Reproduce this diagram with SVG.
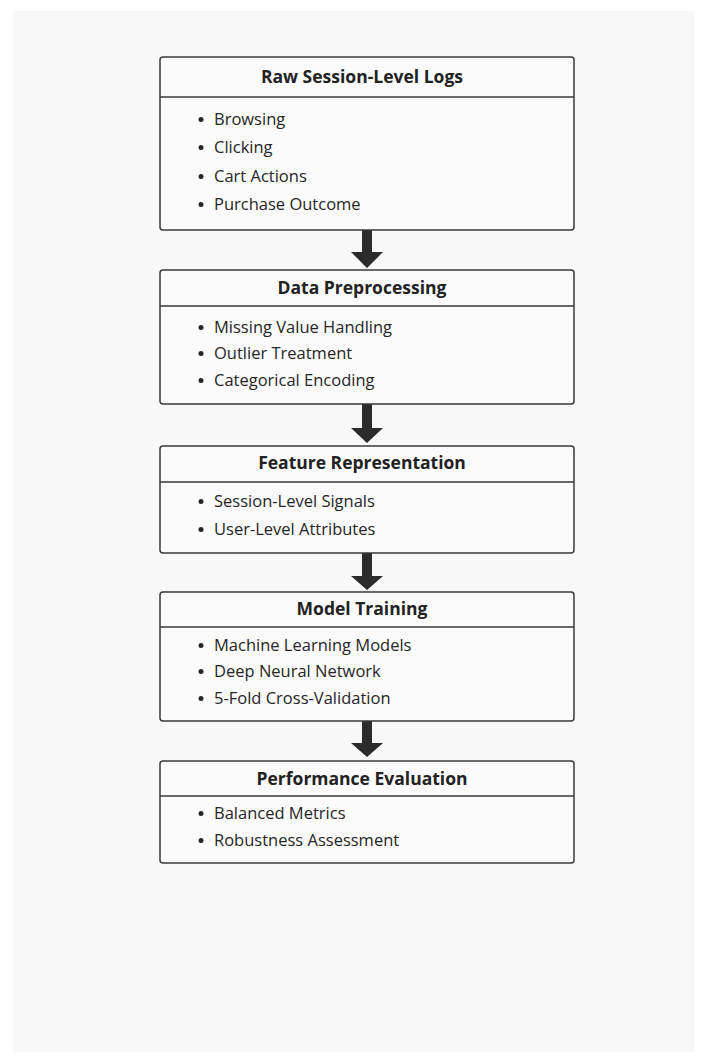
<svg xmlns="http://www.w3.org/2000/svg" width="707" height="1063" viewBox="0 0 707 1063">
<style>
.box{fill:#fbfbfb;stroke:#3a3a3a;stroke-width:1.5}
.div{stroke:#3a3a3a;stroke-width:1.5}
.title{font-family:"Open Sans","Noto Sans",sans-serif;font-weight:700;font-size:17.5px;fill:#222;text-anchor:middle}
.item{font-family:"Open Sans","Noto Sans",sans-serif;font-size:16.5px;fill:#262626}
.bul{fill:#262626}
.arrow{fill:#2b2b2b}
</style>
<rect x="0" y="0" width="707" height="1063" fill="#ffffff"/>
<rect x="13" y="11" width="681" height="1041" fill="#f8f8f8"/>
<g id="connectors">
<path class="arrow" d="M362,230 H372 V252 H383 L367,268 L351,252 H362 Z"/>
<path class="arrow" d="M362,404 H372 V428 H383 L367,443 L351,428 H362 Z"/>
<path class="arrow" d="M362,553 H372 V576 H383 L367,590 L351,576 H362 Z"/>
<path class="arrow" d="M362,721 H372 V743 H383 L367,757 L351,743 H362 Z"/>
</g>
<g id="raw-logs">
<rect class="box" x="160" y="57" width="414" height="173" rx="3"/>
<line class="div" x1="160" y1="97" x2="574" y2="97"/>
<text class="title" x="362" y="83">Raw Session-Level Logs</text>
<circle class="bul" cx="201" cy="119.5" r="2.5"/><text class="item" x="214" y="125">Browsing</text>
<circle class="bul" cx="201" cy="147.5" r="2.5"/><text class="item" x="214" y="153">Clicking</text>
<circle class="bul" cx="201" cy="176.5" r="2.5"/><text class="item" x="214" y="182">Cart Actions</text>
<circle class="bul" cx="201" cy="204.5" r="2.5"/><text class="item" x="214" y="210">Purchase Outcome</text>
</g>
<g id="preprocessing">
<rect class="box" x="160" y="270" width="414" height="134" rx="3"/>
<line class="div" x1="160" y1="306" x2="574" y2="306"/>
<text class="title" x="362" y="294">Data Preprocessing</text>
<circle class="bul" cx="201" cy="327.5" r="2.5"/><text class="item" x="214" y="333">Missing Value Handling</text>
<circle class="bul" cx="201" cy="353.5" r="2.5"/><text class="item" x="214" y="359">Outlier Treatment</text>
<circle class="bul" cx="201" cy="380.5" r="2.5"/><text class="item" x="214" y="386">Categorical Encoding</text>
</g>
<g id="features">
<rect class="box" x="160" y="446" width="414" height="107" rx="3"/>
<line class="div" x1="160" y1="482" x2="574" y2="482"/>
<text class="title" x="362" y="469">Feature Representation</text>
<circle class="bul" cx="201" cy="501.5" r="2.5"/><text class="item" x="214" y="507">Session-Level Signals</text>
<circle class="bul" cx="201" cy="529.5" r="2.5"/><text class="item" x="214" y="535">User-Level Attributes</text>
</g>
<g id="training">
<rect class="box" x="160" y="592" width="414" height="129" rx="3"/>
<line class="div" x1="160" y1="627" x2="574" y2="627"/>
<text class="title" x="362" y="615">Model Training</text>
<circle class="bul" cx="201" cy="645.5" r="2.5"/><text class="item" x="214" y="651">Machine Learning Models</text>
<circle class="bul" cx="201" cy="671.5" r="2.5"/><text class="item" x="214" y="677">Deep Neural Network</text>
<circle class="bul" cx="201" cy="698.5" r="2.5"/><text class="item" x="214" y="704">5-Fold Cross-Validation</text>
</g>
<g id="evaluation">
<rect class="box" x="160" y="761" width="414" height="102" rx="3"/>
<line class="div" x1="160" y1="796" x2="574" y2="796"/>
<text class="title" x="362" y="785">Performance Evaluation</text>
<circle class="bul" cx="201" cy="813.5" r="2.5"/><text class="item" x="214" y="819">Balanced Metrics</text>
<circle class="bul" cx="201" cy="840.5" r="2.5"/><text class="item" x="214" y="846">Robustness Assessment</text>
</g>
</svg>
